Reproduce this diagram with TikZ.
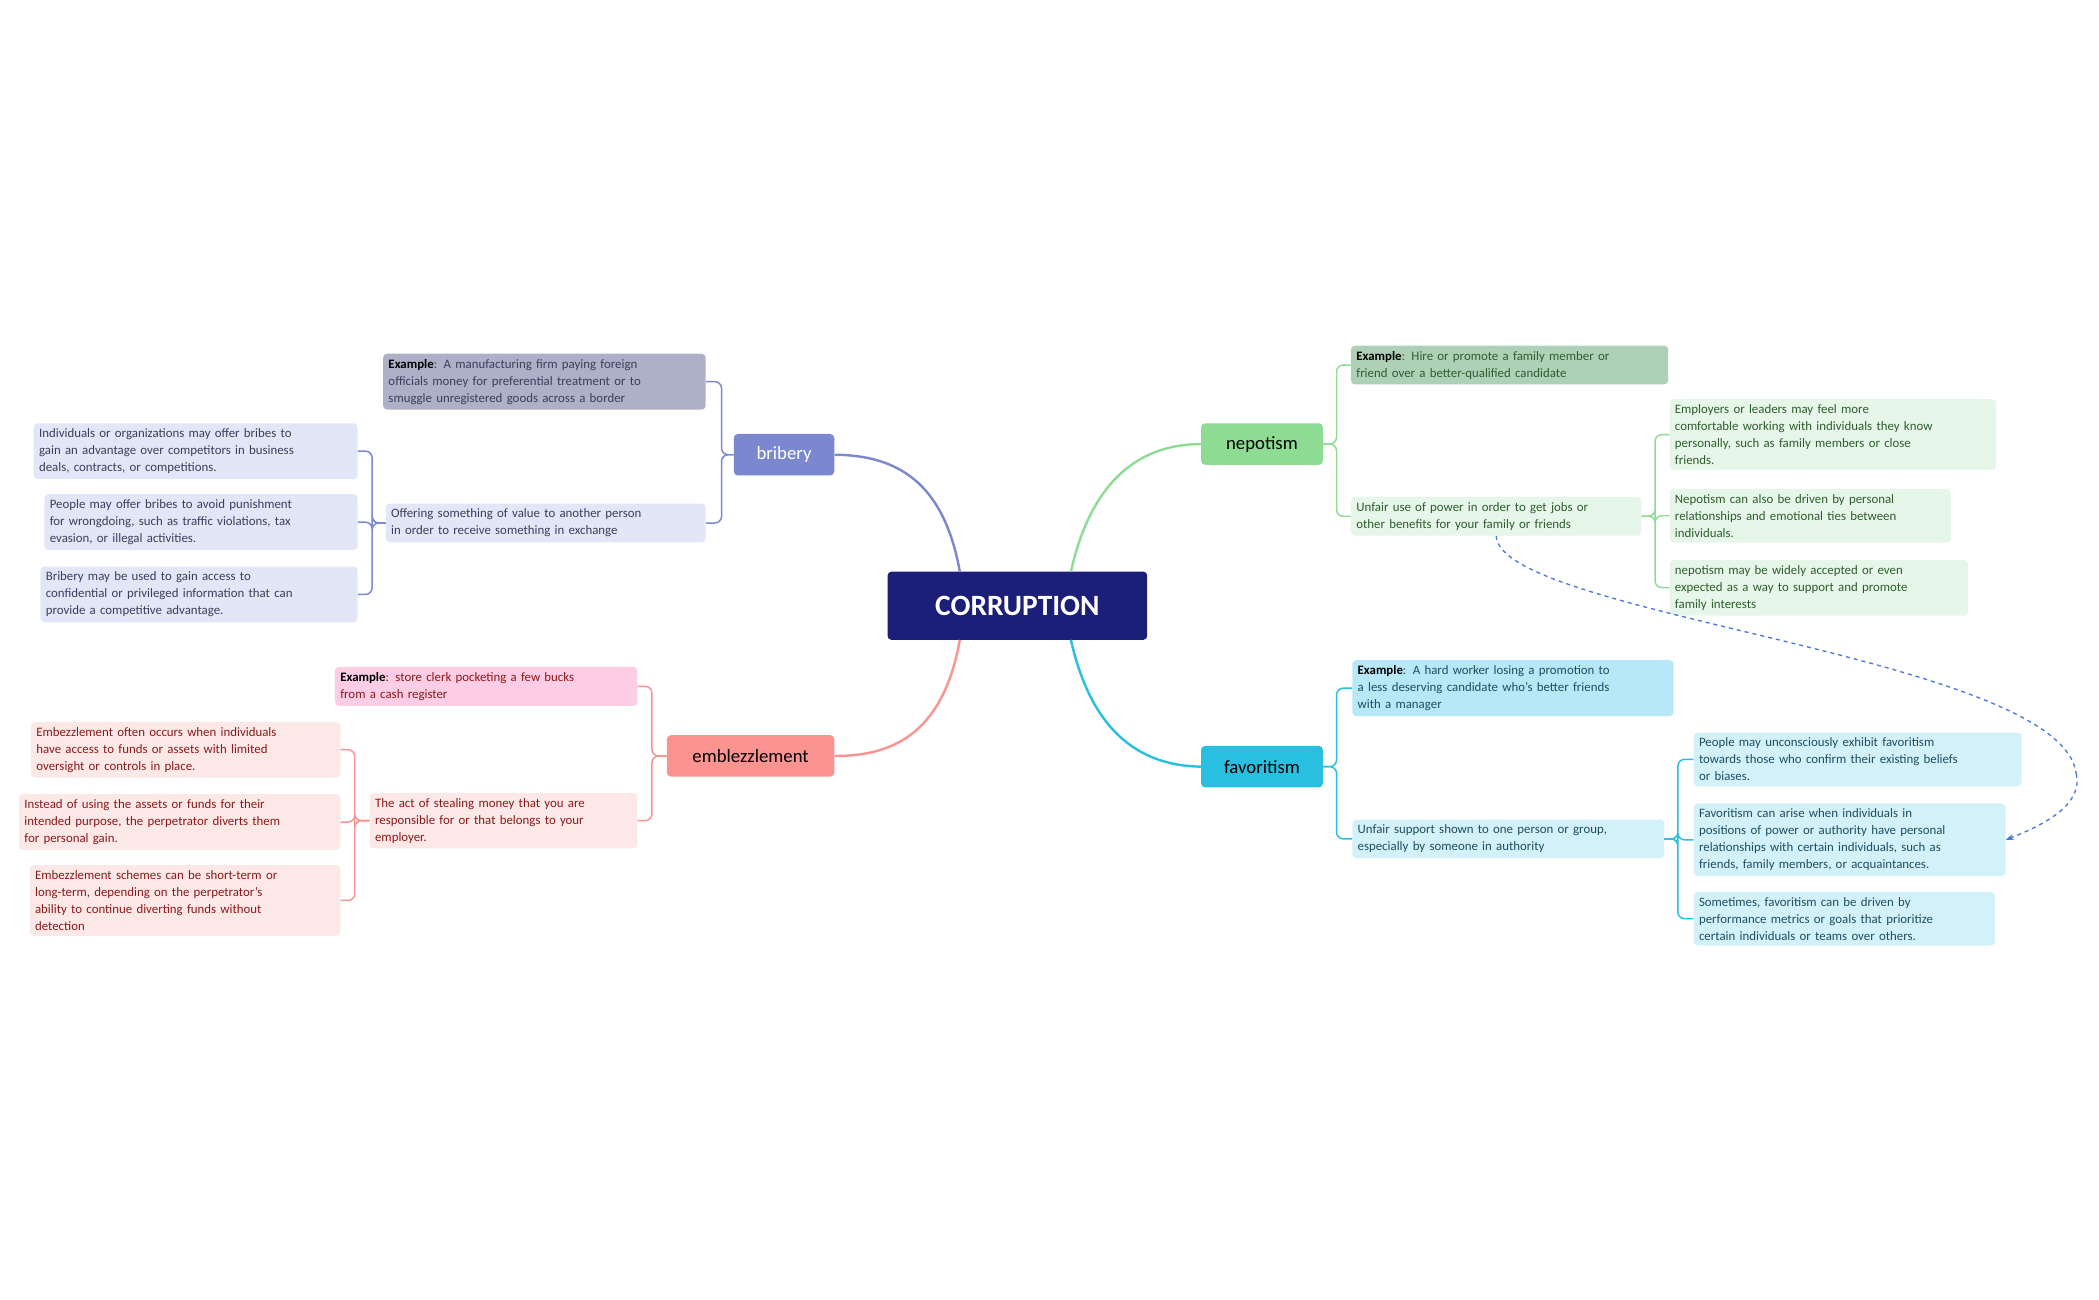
\documentclass[tikz,border=0pt]{standalone}
\usepackage{fontspec}
\setmainfont{Carlito}
\usetikzlibrary{arrows.meta}
\definecolor{navy}{HTML}{1B1F77}
\definecolor{brC}{HTML}{7B88CF}\definecolor{brEx}{HTML}{AEB0C8}\definecolor{brL}{HTML}{E3E6F6}\definecolor{brT}{HTML}{3B3F5C}
\definecolor{neC}{HTML}{8EDC94}\definecolor{neEx}{HTML}{AED0B6}\definecolor{neL}{HTML}{E6F6E8}\definecolor{neT}{HTML}{2E5E2E}
\definecolor{faC}{HTML}{29BFE0}\definecolor{faEx}{HTML}{B7E8F7}\definecolor{faL}{HTML}{D3F1F9}\definecolor{faT}{HTML}{1F4F5F}
\definecolor{emC}{HTML}{FB9390}\definecolor{emEx}{HTML}{FCCDE4}\definecolor{emL}{HTML}{FDE8E8}\definecolor{emT}{HTML}{8B1A1A}
\definecolor{dashblue}{HTML}{4A78D8}
\tikzset{
 leaf/.style={rounded corners=3pt, inner sep=4pt, align=left, font=\fontsize{9.6}{12.7}\selectfont, anchor=north west},
 branch/.style={rounded corners=3pt, inner sep=0pt, font=\fontsize{14}{16}\selectfont, anchor=north west},
 link/.style={line width=1.1pt, rounded corners=5pt},
 curv/.style={line width=1.8pt},
 rel/.style={draw=dashblue, dashed, line width=1pt},
}
\begin{document}
\begin{tikzpicture}[x=1pt,y=-1pt]
\useasboundingbox (0,0) rectangle (1568,971);
% center
\node[fill=navy, rounded corners=3pt, minimum width=194pt, minimum height=51pt, text=white, font=\fontsize{22}{24}\selectfont\bfseries] (c) at (760,452.5) {CORRUPTION};
% branches
\node[branch, fill=brC, text=white, minimum width=75pt, minimum height=31pt] (br) at (548,324) {bribery};
\node[branch, fill=neC, text=black, minimum width=91pt, minimum height=31pt] (ne) at (897,316) {nepotism};
\node[branch, fill=faC, text=black, minimum width=91pt, minimum height=31pt] (fa) at (897,557) {favoritism};
\node[branch, fill=emC, text=black, minimum width=125pt, minimum height=31pt] (em) at (498,549) {emblezzlement};
\draw[curv, brC] (717,427) .. controls (705,360) and (670,340) .. (br.east);
\draw[curv, neC] (800,427) .. controls (815,360) and (850,332) .. (ne.west);
\draw[curv, emC] (717,478) .. controls (705,545) and (670,565) .. (em.east);
\draw[curv, faC] (800,478) .. controls (815,545) and (850,572) .. (fa.west);
% bribery
\node[leaf, fill=brEx, text=brT, text width=233pt] (b1) at (286,264) {\textbf{\color{black}Example}: A manufacturing firm paying foreign\\officials money for preferential treatment or to\\smuggle unregistered goods across a border};
\node[leaf, fill=brL, text=brT, text width=231pt] (b2) at (288,376) {Offering something of value to another person\\in order to receive something in exchange};
\node[leaf, fill=brL, text=brT, text width=234pt] (b21) at (25,316) {Individuals or organizations may offer bribes to\\gain an advantage over competitors in business\\deals, contracts, or competitions.};
\node[leaf, fill=brL, text=brT, text width=226pt] (b22) at (33,369) {People may offer bribes to avoid punishment\\for wrongdoing, such as traffic violations, tax\\evasion, or illegal activities.};
\node[leaf, fill=brL, text=brT, text width=229pt] (b23) at (30,423) {Bribery may be used to gain access to\\confidential or privileged information that can\\provide a competitive advantage.};
\foreach \n in {b1,b2} \draw[link, brC] (br.west) -- ++(-9,0) |- (\n.east);
\foreach \n in {b21,b22,b23} \draw[link, brC] (b2.west) -- ++(-10,0) |- (\n.east);
% nepotism
\node[leaf, fill=neEx, text=neT, text width=229pt] (n1) at (1009,258) {\textbf{\color{black}Example}: Hire or promote a family member or\\friend over a better-qualified candidate};
\node[leaf, fill=neL, text=neT, text width=209pt] (n2) at (1009,371) {Unfair use of power in order to get jobs or\\other benefits for your family or friends};
\node[leaf, fill=neL, text=neT, text width=236pt] (n21) at (1247,298) {Employers or leaders may feel more\\comfortable working with individuals they know\\personally, such as family members or close\\friends.};
\node[leaf, fill=neL, text=neT, text width=202pt] (n22) at (1247,365) {Nepotism can also be driven by personal\\relationships and emotional ties between\\individuals.};
\node[leaf, fill=neL, text=neT, text width=215pt] (n23) at (1247,418) {nepotism may be widely accepted or even\\expected as a way to support and promote\\family interests};
\foreach \n in {n1,n2} \draw[link, neC] (ne.east) -- ++(10,0) |- (\n.west);
\foreach \n in {n21,n22,n23} \draw[link, neC] (n2.east) -- ++(10,0) |- (\n.west);
% favoritism
\node[leaf, fill=faEx, text=faT, text width=232pt] (f1) at (1010,493) {\textbf{\color{black}Example}: A hard worker losing a promotion to\\a less deserving candidate who's better friends\\with a manager};
\node[leaf, fill=faL, text=faT, text width=225pt] (f2) at (1010,612) {Unfair support shown to one person or group,\\especially by someone in authority};
\node[leaf, fill=faL, text=faT, text width=237pt] (f21) at (1265,547) {People may unconsciously exhibit favoritism\\towards those who confirm their existing beliefs\\or biases.};
\node[leaf, fill=faL, text=faT, text width=225pt] (f22) at (1265,600) {Favoritism can arise when individuals in\\positions of power or authority have personal\\relationships with certain individuals, such as\\friends, family members, or acquaintances.};
\node[leaf, fill=faL, text=faT, text width=217pt] (f23) at (1265,666) {Sometimes, favoritism can be driven by\\performance metrics or goals that prioritize\\certain individuals or teams over others.};
\foreach \n in {f1,f2} \draw[link, faC] (fa.east) -- ++(10,0) |- (\n.west);
\foreach \n in {f21,f22,f23} \draw[link, faC] (f2.east) -- ++(10,0) |- (\n.west);
% emblezzlement
\node[leaf, fill=emEx, text=emT, text width=218pt] (e1) at (250,498) {\textbf{\color{black}Example}: store clerk pocketing a few bucks\\from a cash register};
\node[leaf, fill=emL, text=emT, text width=192pt] (e2) at (276,592) {The act of stealing money that you are\\responsible for or that belongs to your\\employer.};
\node[leaf, fill=emL, text=emT, text width=223pt] (e21) at (23,539) {Embezzlement often occurs when individuals\\have access to funds or assets with limited\\oversight or controls in place.};
\node[leaf, fill=emL, text=emT, text width=232pt] (e22) at (14,593) {Instead of using the assets or funds for their\\intended purpose, the perpetrator diverts them\\for personal gain.};
\node[leaf, fill=emL, text=emT, text width=224pt] (e23) at (22,646) {Embezzlement schemes can be short-term or\\long-term, depending on the perpetrator's\\ability to continue diverting funds without\\detection};
\foreach \n in {e1,e2} \draw[link, emC] (em.west) -- ++(-11,0) |- (\n.east);
\foreach \n in {e21,e22,e23} \draw[link, emC] (e2.west) -- ++(-11,0) |- (\n.east);
% dashed relation
\coordinate (dm) at (1551,578);
\draw[rel] (n2.south) .. controls (1120,460) and (1540,490) .. (dm);
\draw[rel, -{Stealth[length=6pt]}] (dm) .. controls (1556,600) and (1530,615) .. (f22.east);
\end{tikzpicture}
\end{document}
